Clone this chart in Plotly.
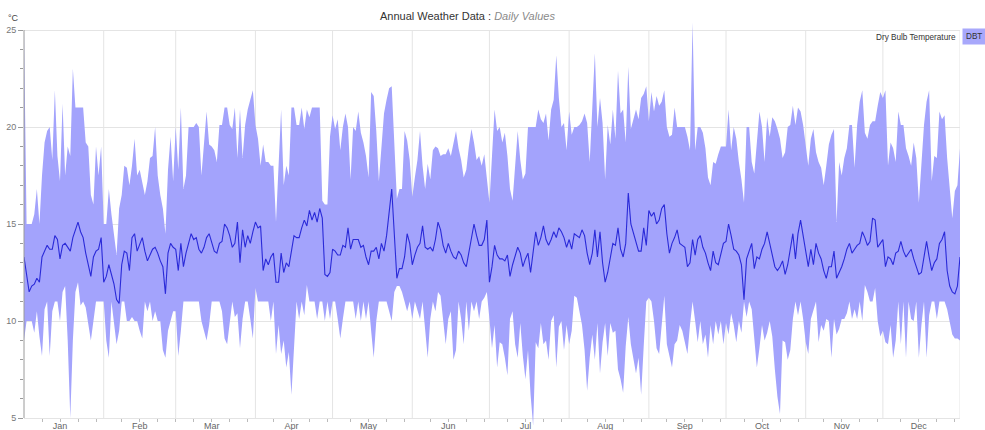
import plotly.graph_objects as go
import pandas as pd

# ---------------- data (daily Dry Bulb Temperature, °C) ----------------
month_names = ["Jan", "Feb", "Mar", "Apr", "May", "Jun",
               "Jul", "Aug", "Sep", "Oct", "Nov", "Dec"]

max_jan = [25, 15, 15, 15, 15.5, 16.8, 15, 17.5, 19.2, 19.8, 20, 18.3, 21.9, 18.5, 17.2, 21.2, 17.5, 19, 18.5, 23, 21, 21, 21, 21, 19.2, 19, 16.5, 16, 19, 17.5, 19]
max_feb = [15, 15, 16.8, 15.5, 14.5, 13.4, 15.8, 16.5, 18.0, 17.9, 17.0, 18.0, 19.4, 17.5, 17.8, 17.2, 16.5, 17.2, 18.4, 18.5, 20.0, 17.5, 16.5, 15.8, 14.5, 17.8, 19.5, 17.2]
max_mar = [20, 17.8, 21, 16.8, 17.5, 20, 20, 20, 20.2, 20, 17.5, 19, 20.8, 19.1, 19.0, 18.8, 18.2, 20.1, 20.1, 21.0, 21.0, 20.1, 19.9, 21.0, 18.4, 20.9, 18.4, 20.1, 20.9, 21.4, 21.9]
max_apr = [20.1, 19.4, 18.0, 19.1, 18.2, 18.2, 18.0, 18.0, 15.1, 18.0, 20.9, 17.0, 18.0, 17.5, 21.0, 21.0, 20.1, 20.1, 21.0, 19.9, 20.9, 20.5, 21.0, 21.0, 21.0, 21.0, 16.2, 16.0, 16.0, 19.5]
max_may = [20.6, 19.9, 20.4, 18.8, 20.0, 20.7, 20.0, 17.3, 20.0, 19.8, 20.8, 19.7, 19.2, 18.5, 17.4, 21.8, 21.6, 19.8, 17.2, 18.8, 20.7, 21.4, 22.0, 22.1, 19.2, 16.3, 16.8, 16.8, 19.8, 19.3, 18.3]
max_jun = [16.4, 17.4, 18.3, 19.8, 18.0, 16.8, 18.1, 17.3, 18.8, 19.0, 18.9, 18.5, 18.6, 18.6, 18.9, 18.5, 19.2, 19.8, 18.9, 18.3, 17.4, 17.8, 19.0, 19.9, 19.2, 18.3, 18.5, 18.0, 18.6, 17.3]
max_jul = [16.1, 18.5, 20.9, 19.8, 20.0, 19.2, 19.7, 18.5, 16.8, 16.2, 18.1, 19.8, 18.3, 17.3, 17.6, 20.0, 20.0, 20.0, 20.0, 20.9, 20.4, 20.2, 20.7, 19.3, 20.9, 21.4, 23.7, 21.5, 20.0, 20.2, 18.8]
max_aug = [20.8, 19.6, 20.0, 20.0, 20.1, 20.3, 20.7, 20.2, 18.2, 20.8, 23.8, 20.0, 21.5, 20.2, 17.3, 20.1, 19.1, 20.9, 19.4, 22.9, 20.7, 20.9, 19.2, 23.1, 19.9, 20.4, 20.9, 20.4, 21.5, 21.7, 22.1]
max_sep = [20.3, 21.8, 20.8, 21.6, 21.1, 21.3, 21.9, 20.0, 19.5, 19.6, 21.0, 20.0, 20.0, 20.0, 20.0, 19.5, 18.8, 25.4, 18.8, 20.0, 20.0, 19.7, 18.9, 17.4, 17.0, 18.2, 18.1, 18.6, 19.0, 19.0]
max_oct = [19.0, 20.9, 18.8, 20.0, 19.4, 18.2, 17.3, 16.1, 20.0, 20.0, 18.2, 17.6, 19.2, 20.8, 20.0, 18.2, 20.5, 19.5, 20.5, 20.3, 19.9, 19.4, 18.4, 18.7, 20.0, 20.1, 21.1, 20.1, 21.0, 20.8, 20.1]
max_nov = [19.1, 18.0, 19.4, 19.9, 18.7, 18.2, 17.9, 17.0, 18.0, 19.1, 19.6, 19.9, 15.1, 18.2, 17.5, 18.4, 18.9, 20.1, 20.1, 17.9, 20.1, 21.3, 21.9, 19.7, 19.4, 20.1, 20.3, 20.3, 21.1, 21.8]
max_dec = [21.5, 21.9, 18.0, 19.2, 18.9, 18.2, 20.8, 20.1, 20.1, 18.9, 18.5, 18.0, 19.2, 18.4, 16.1, 18.4, 20.1, 21.3, 21.9, 17.2, 18.5, 18.4, 20.8, 20.4, 20.6, 18.4, 16.8, 15.3, 16.7, 17.0, 18.9]

min_jan = [9.0, 10, 10, 10, 9.4, 10.5, 9.2, 8.2, 10.6, 11, 8.2, 10.5, 11, 11, 10, 11.5, 11.8, 9, 5.0, 9, 11.5, 12, 10.8, 11, 10.7, 9.8, 9.0, 10, 11, 11, 11]
min_feb = [11, 9.0, 8.1, 11, 10, 8.8, 9.5, 11, 11, 10, 10, 10.2, 10, 10, 9.5, 9.1, 11, 10.5, 11, 10, 10.5, 10, 10, 8.5, 8.1, 9.5, 10, 10.5]
min_mar = [10.5, 8.2, 9.5, 11, 11, 11, 11, 11, 11, 11, 10, 9.5, 9.0, 9.8, 11, 11, 11, 11, 10.5, 9.1, 8.8, 9.8, 11, 10.2, 10.4, 8.6, 10.1, 11, 11, 10.1, 9.1]
min_apr = [11.7, 11, 11, 11, 11, 11, 10, 11, 8.3, 9.8, 8.3, 9.0, 7.6, 8.4, 6.2, 9.0, 11, 10.1, 11, 10.3, 11.85, 11, 11, 11, 10.1, 11, 11, 10, 11, 10.1]
min_may = [11, 11, 10.1, 9.1, 10.1, 11, 11, 11, 11, 10.1, 11, 10, 11, 10.1, 11, 9.5, 8.1, 10, 11, 11, 11, 11, 10.5, 10, 11.5, 11.8, 11.8, 11.5, 11, 10.5, 11]
min_jun = [10.1, 11, 10.6, 10.1, 11, 9.5, 8.1, 10.1, 11, 10.5, 11.5, 11.3, 10, 8.8, 10.1, 10.5, 8.0, 8.5, 11, 10.1, 8.8, 11, 9.5, 11, 10.5, 11, 10.1, 11, 11.2, 11.5]
min_jul = [10.1, 8.6, 9.8, 7.6, 8.9, 8.8, 8.1, 7.2, 10.1, 10.5, 8.8, 8.1, 9.9, 8.2, 7.0, 8.5, 6.2, 4.6, 8.9, 8.6, 9.9, 8.8, 9.0, 8.0, 10.0, 10.3, 7.6, 9.7, 10.0, 8.5, 9.8]
min_aug = [8.8, 9.5, 11.3, 11.2, 10.5, 9.8, 8.5, 6.4, 8.1, 9.3, 8.0, 9.9, 7.3, 8.9, 9.9, 8.2, 9.9, 9.4, 9.5, 7.5, 7.0, 6.3, 8.7, 10.2, 8.8, 8.1, 7.3, 8.1, 6.2, 8.7, 11.0]
min_sep = [11.2, 11.0, 10.0, 8.6, 8.3, 10.0, 11.3, 8.8, 8.1, 7.6, 8.8, 9.0, 9.8, 9.5, 8.9, 8.3, 9.8, 11.0, 10.0, 8.9, 10.0, 8.8, 9.3, 8.1, 9.8, 8.8, 10.0, 9.3, 10.0, 8.8]
min_oct = [9.9, 9.3, 10.4, 9.8, 8.9, 10.0, 9.4, 11.0, 10.2, 11.0, 10.6, 9.0, 7.6, 8.6, 9.8, 9.0, 9.4, 10.0, 9.2, 7.5, 6.1, 5.2, 9.0, 8.9, 8.0, 8.5, 10.1, 11.0, 10.3, 11.0, 10.1]
min_nov = [8.9, 8.3, 10.1, 10.5, 11.0, 8.9, 9.8, 9.5, 10.1, 10.0, 8.1, 10.1, 9.3, 9.6, 10.1, 10.1, 10.4, 11.0, 10.1, 10.6, 10.1, 11.0, 10.0, 11.85, 11.5, 11.0, 11.0, 11.7, 10.0, 9.2]
min_dec = [9.5, 8.9, 8.8, 9.8, 8.1, 9.0, 11.0, 8.8, 11.0, 8.1, 11.0, 10.1, 10.0, 11.0, 8.1, 9.8, 11.0, 8.1, 10.3, 11.0, 11.0, 10.1, 11.0, 11.0, 11.0, 10.6, 10.0, 9.3, 9.1, 9.1, 9.0]

mean_jan = [13.3, 12.5, 11.5, 11.8, 11.9, 12.2, 12.0, 13.3, 13.6, 13.9, 13.7, 13.7, 14.4, 14.2, 13.2, 13.9, 14.0, 13.8, 13.6, 14.3, 14.7, 15.1, 14.6, 14.3, 13.5, 12.8, 12.3, 13.3, 13.6, 13.7, 14.3]
mean_feb = [12.0, 12.3, 12.9, 12.4, 11.9, 11.1, 10.9, 12.9, 13.6, 13.5, 12.6, 14.3, 14.5, 13.6, 14.0, 14.3, 13.6, 13.1, 13.4, 13.7, 13.8, 13.5, 13.1, 12.8, 11.4, 13.5, 14.0, 13.8]
mean_mar = [13.7, 12.6, 14.0, 12.8, 13.5, 14.0, 14.5, 14.2, 14.3, 13.7, 13.5, 13.8, 14.3, 14.5, 14.0, 13.6, 13.5, 14.0, 14.1, 15.0, 14.8, 14.4, 13.8, 14.0, 15.1, 13.0, 14.7, 13.8, 14.4, 14.0, 14.6]
mean_apr = [15.1, 14.8, 14.9, 12.6, 13.2, 12.9, 13.3, 13.5, 12.0, 12.0, 13.5, 12.5, 13.0, 12.8, 13.5, 14.4, 14.3, 14.3, 14.8, 15.2, 14.9, 15.7, 15.2, 15.6, 15.1, 15.8, 15.3, 12.4, 12.3, 12.5]
mean_may = [13.7, 13.6, 13.4, 13.4, 13.9, 13.8, 14.8, 13.7, 14.2, 14.2, 14.2, 13.8, 13.9, 13.3, 12.9, 13.6, 13.6, 13.8, 13.2, 14.0, 13.6, 14.4, 15.5, 16.8, 14.5, 12.2, 12.7, 12.7, 13.3, 14.5, 14.0]
mean_jun = [12.9, 13.4, 13.8, 14.0, 14.9, 13.8, 13.7, 13.8, 13.6, 14.2, 15.1, 14.7, 13.9, 13.5, 14.0, 13.6, 13.3, 13.2, 13.6, 13.4, 13.0, 12.8, 13.5, 14.2, 15.0, 14.4, 13.9, 13.9, 14.2, 15.2]
mean_jul = [12.0, 12.8, 13.9, 13.4, 13.2, 13.2, 13.1, 13.4, 12.3, 12.9, 13.3, 13.8, 13.5, 12.8, 13.2, 13.5, 12.5, 13.5, 14.6, 13.9, 14.3, 14.9, 14.2, 13.9, 14.2, 14.6, 14.3, 14.8, 14.6, 14.3, 13.8]
mean_aug = [14.2, 13.7, 14.5, 14.4, 14.3, 14.7, 14.4, 13.5, 12.9, 13.5, 14.7, 13.3, 14.6, 13.0, 12.0, 12.5, 13.2, 14.0, 13.9, 14.8, 13.7, 13.3, 14.0, 16.6, 15.0, 14.5, 14.0, 13.6, 13.6, 14.8, 13.9]
mean_sep = [15.7, 15.4, 15.6, 15.0, 15.2, 15.8, 16.0, 14.5, 13.5, 14.0, 14.3, 14.7, 14.0, 13.9, 13.8, 12.8, 13.0, 14.2, 13.4, 14.2, 14.4, 13.8, 13.5, 13.0, 12.6, 13.6, 13.0, 12.9, 13.5, 14.0]
mean_oct = [14.1, 15.0, 14.4, 13.7, 13.6, 13.4, 12.9, 11.1, 13.2, 13.6, 14.0, 12.7, 13.3, 13.2, 13.7, 14.0, 14.6, 14.0, 13.4, 12.8, 12.6, 12.8, 13.1, 12.4, 12.9, 13.8, 14.5, 13.2, 14.5, 15.2, 14.4]
mean_nov = [13.6, 12.8, 13.7, 12.9, 14.0, 13.5, 13.2, 12.6, 12.2, 12.8, 12.8, 13.6, 12.2, 12.5, 12.8, 13.2, 13.7, 14.0, 13.5, 13.7, 13.9, 14.0, 14.6, 14.3, 13.9, 14.1, 15.3, 15.2, 13.8, 14.0]
mean_dec = [14.2, 12.8, 13.3, 13.2, 12.9, 13.5, 13.6, 14.1, 13.6, 13.3, 13.5, 13.7, 13.2, 12.8, 12.4, 12.5, 13.4, 14.1, 13.3, 12.6, 13.0, 13.2, 14.0, 14.2, 14.6, 12.6, 11.8, 11.5, 11.4, 11.8, 13.3]

y_ticks = [5, 10, 15, 20, 25]

# ---------------- assemble ----------------
dbt_max = (max_jan + max_feb + max_mar + max_apr + max_may + max_jun +
           max_jul + max_aug + max_sep + max_oct + max_nov + max_dec)
dbt_min = (min_jan + min_feb + min_mar + min_apr + min_may + min_jun +
           min_jul + min_aug + min_sep + min_oct + min_nov + min_dec)
dbt_mean = (mean_jan + mean_feb + mean_mar + mean_apr + mean_may + mean_jun +
            mean_jul + mean_aug + mean_sep + mean_oct + mean_nov + mean_dec)
assert len(dbt_max) == 365 and len(dbt_min) == 365 and len(dbt_mean) == 365

dates = pd.date_range("2023-01-01", periods=365, freq="D")
month_starts = pd.date_range("2023-01-01", periods=12, freq="MS")
mid_month = [d + pd.Timedelta(days=14) for d in month_starts]
minor_days = [d + pd.Timedelta(days=k) for d in month_starts for k in (7, 21, 28)]
minor_days = [d for d in minor_days if d <= dates[-1]]

FILL = "#a3a3fc"
LINE = "#2a2ad8"
GRID = "#e4e4e4"
FONT = "Liberation Sans, Arial, sans-serif"

fig = go.Figure()
fig.add_trace(go.Scatter(x=dates, y=dbt_min, mode="lines",
                         line=dict(width=0, color=FILL), showlegend=False,
                         hoverinfo="skip"))
fig.add_trace(go.Scatter(x=dates, y=dbt_max, mode="lines", fill="tonexty",
                         fillcolor=FILL, line=dict(width=0, color=FILL),
                         showlegend=False, hoverinfo="skip"))
fig.add_trace(go.Scatter(x=dates, y=dbt_mean, mode="lines",
                         line=dict(width=1.1, color=LINE), showlegend=False,
                         name="DBT"))

W, H = 985, 430
# window pixels: x 24..960 for Jan 1..Dec 31, y=25 at 30, y=5 at 418,
# plot area extended from y 20 to 428 so the extreme spikes are not clipped.
L_px, R_px, T_px, B_px = 24, 960, 20, 428
ppu = (418 - 30) / 20.0
y_lo = 5 - (B_px - 418) / ppu
y_hi = 25 + (30 - T_px) / ppu
axis_pos = (B_px - 418) / (B_px - T_px)


def px(sx):
    return (sx - L_px) / (R_px - L_px)


def py(sy):
    return (B_px - sy) / (B_px - T_px)


shapes = []
for d in list(month_starts[1:]) + [dates[-1]]:
    shapes.append(dict(type="line", xref="x", yref="y", x0=d, x1=d, y0=5, y1=25,
                       line=dict(color=GRID, width=1), layer="below"))
shapes.append(dict(type="line", xref="paper", yref="y", x0=0, x1=0, y0=5, y1=25,
                   line=dict(color="#9a9a9a", width=1), layer="above"))

fig.update_layout(
    width=W, height=H,
    margin=dict(l=L_px, r=W - R_px, t=T_px, b=H - B_px, autoexpand=False),
    paper_bgcolor="white", plot_bgcolor="white",
    font=dict(family=FONT, size=10, color="#555"),
    showlegend=False,
    shapes=shapes,
    xaxis=dict(
        type="date", range=[dates[0], dates[-1]],
        tickmode="array", tickvals=mid_month, ticktext=month_names,
        ticks="outside", ticklen=3, tickcolor="#bbb", tickwidth=1,
        tickfont=dict(size=9, color="#666"),
        showgrid=False, zeroline=False, showline=False,
        anchor="free", position=axis_pos,
        ticklabelstandoff=-4,
        minor=dict(tickmode="array", tickvals=minor_days, ticks="outside",
                   ticklen=3, tickcolor="#bbb", showgrid=False),
    ),
    yaxis=dict(
        range=[y_lo, y_hi], tickmode="array", tickvals=y_ticks,
        ticks="outside", ticklen=5, tickcolor="#9a9a9a",
        tickfont=dict(size=9, color="#777"),
        showgrid=True, gridcolor=GRID, zeroline=False, showline=False,
        minor=dict(tickmode="linear", tick0=0, dtick=1, ticks="outside",
                   ticklen=3, tickcolor="#9a9a9a", showgrid=False),
    ),
    annotations=[
        dict(xref="paper", yref="paper", x=px(467), y=py(16),
             text="Annual Weather Data : <i><span style='color:#8a8a8a'>Daily Values</span></i>",
             showarrow=False, font=dict(size=11, color="#333"),
             xanchor="center", yanchor="middle"),
        dict(xref="paper", yref="paper", x=px(21), y=py(18),
             text="°C", showarrow=False, font=dict(size=9, color="#444"),
             xanchor="right", yanchor="middle"),
        dict(xref="paper", yref="paper", x=px(958), y=py(38),
             text="Dry Bulb Temperature", showarrow=False,
             font=dict(size=8.2, color="#333"), xanchor="right", yanchor="middle"),
        dict(xref="paper", yref="paper", x=px(974), y=py(37),
             text="DBT", showarrow=False, bgcolor="#a8a8fb", borderpad=3,
             font=dict(size=8.2, color="#333"), xanchor="center", yanchor="middle"),
    ],
)

# the page's default 8px body margin would shift the fixed-size figure
fig.write_html("out.html", config={"displayModeBar": False},
               post_script="document.body.style.margin='0';")
